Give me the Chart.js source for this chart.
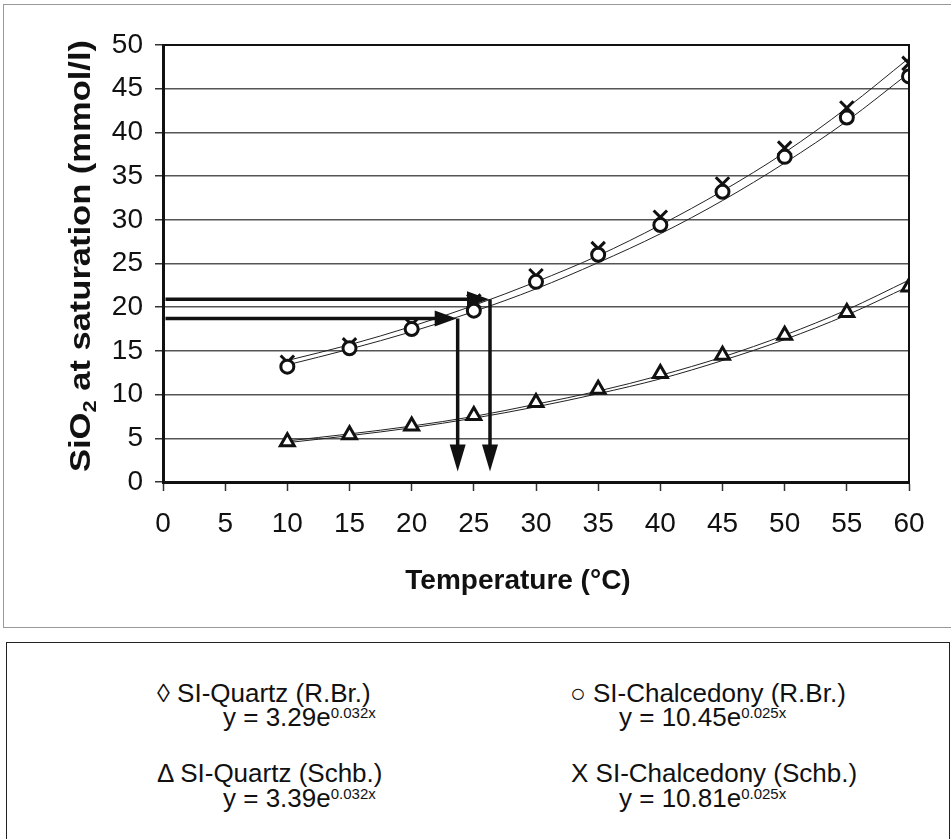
<!DOCTYPE html>
<html>
<head>
<meta charset="utf-8">
<script src="https://cdn.jsdelivr.net/npm/chart.js@4"></script>
<style>
    body { margin: 0; background: #fff; font-family: "Liberation Sans", Arial, sans-serif; color: #111; }
    #kader { position: absolute; left: 3px; top: 4px; width: 947px; height: 622px; border: 1px solid #999; border-right: none; }
    #grafiek { position: absolute; left: 4px; top: 5px; }
    #legenda { position: absolute; left: 6px; top: 642px; width: 942px; height: 210px; border: 1.5px solid #222; }
    .regel { position: absolute; font-size: 26px; white-space: nowrap; }
    .regel sup { font-size: 15px; position: relative; top: 2px; }
</style>
</head>
<body>
<div id="kader"></div>
<canvas id="grafiek" width="946" height="622"></canvas>
<div id="legenda"></div>

<script>
// temperatures (°C)
const temperaturen = [10, 15, 20, 25, 30, 35, 40, 45, 50, 55, 60];

const quartzSchb = [4.6, 5.4, 6.4, 7.6, 9.1, 10.6, 12.4, 14.5, 16.8, 19.4, 22.3];
const chalcRBr   = [13.2, 15.3, 17.5, 19.6, 22.9, 26.0, 29.4, 33.2, 37.2, 41.7, 46.4];
const chalcSchb  = [13.7, 15.7, 18.0, 20.7, 23.6, 26.7, 30.3, 34.1, 38.2, 42.8, 47.9];

// trendlines as drawn
const trendQuartzRBr  = [4.5, 5.3, 6.2, 7.3, 8.6, 10.1, 11.8, 13.9, 16.3, 19.1, 22.4];
const trendQuartzSchb = [4.7, 5.5, 6.4, 7.5, 8.9, 10.4, 12.2, 14.3, 16.8, 19.7, 23.1];
const trendChalcRBr   = [13.4, 15.2, 17.2, 19.5, 22.1, 25.1, 28.4, 32.2, 36.5, 41.3, 46.8];
const trendChalcSchb  = [13.9, 15.7, 17.8, 20.2, 22.9, 25.9, 29.4, 33.3, 37.7, 42.8, 48.5];

const pijlNiveaus = [20.9, 18.7];
const pijlTemperaturen = [26.3, 23.7];
const pijlStartX = 0.2;
const pijlEindY = 1.2;

// legend texts
const legendaLabels = ["\u25CA  SI-Quartz (R.Br.)", "\u25CB SI-Chalcedony (R.Br.)", "\u0394 SI-Quartz (Schb.)", "X SI-Chalcedony (Schb.)"];
const legendaFactoren = ["3.29", "10.45", "3.39", "10.81"];
const legendaExponenten = ["0.032x", "0.025x", "0.032x", "0.025x"];

const zwart = "#111";

function punten(waarden) {
    return temperaturen.map((t, i) => ({ x: t, y: waarden[i] }));
}

function trend(waarden) {
    return {
        data: punten(waarden),
        showLine: true,
        borderColor: "#222",
        borderWidth: 1,
        pointRadius: 0,
        cubicInterpolationMode: "monotone",
        order: 5,
    };
}

function markers(waarden, stijl, radius) {
    return {
        data: punten(waarden),
        showLine: false,
        pointStyle: stijl,
        pointRadius: radius,
        pointBorderWidth: 3,
        pointBorderColor: zwart,
        pointBackgroundColor: "#fff",
        order: 1,
    };
}

const pijlenPlugin = {
    id: "pijlen",
    afterDatasetsDraw(chart) {
        const ctx = chart.ctx;
        const xs = chart.scales.x, ys = chart.scales.y;
        ctx.save();
        ctx.strokeStyle = zwart;
        ctx.fillStyle = zwart;
        ctx.lineWidth = 3.5;
        pijlNiveaus.forEach((niveau, i) => {
            const x0 = xs.getPixelForValue(pijlStartX);
            const x1 = xs.getPixelForValue(pijlTemperaturen[i]);
            const y0 = ys.getPixelForValue(niveau);
            const y1 = ys.getPixelForValue(pijlEindY);
            // horizontal
            ctx.beginPath();
            ctx.moveTo(x0, y0);
            ctx.lineTo(x1 - 18, y0);
            ctx.stroke();
            ctx.beginPath();
            ctx.moveTo(x1 - 1, y0);
            ctx.lineTo(x1 - 23, y0 - 8);
            ctx.lineTo(x1 - 23, y0 + 8);
            ctx.closePath();
            ctx.fill();
            // vertical
            ctx.beginPath();
            ctx.moveTo(x1, y0);
            ctx.lineTo(x1, y1 - 22);
            ctx.stroke();
            ctx.beginPath();
            ctx.moveTo(x1, y1);
            ctx.lineTo(x1 - 8, y1 - 27);
            ctx.lineTo(x1 + 8, y1 - 27);
            ctx.closePath();
            ctx.fill();
        });
        ctx.restore();
    },
    afterDraw(chart) {
        const ctx = chart.ctx;
        const a = chart.chartArea;
        ctx.save();
        // top and right frame
        ctx.strokeStyle = zwart;
        ctx.lineWidth = 2;
        ctx.beginPath();
        ctx.moveTo(a.left, a.top);
        ctx.lineTo(a.right, a.top);
        ctx.lineTo(a.right, a.bottom);
        ctx.stroke();

        ctx.fillStyle = zwart;
        // x title
        ctx.font = "bold 28px 'Liberation Sans', Arial, sans-serif";
        ctx.textAlign = "center";
        ctx.textBaseline = "middle";
        ctx.fillText("Temperature (\u00B0C)", a.left + 355, 576);

        // y title with subscript
        const delen = [
            { t: "SiO", f: "bold 30px 'Liberation Sans', Arial, sans-serif", dy: 0 },
            { t: "2", f: "bold 19px 'Liberation Sans', Arial, sans-serif", dy: 6 },
            { t: " at saturation (mmol/l)", f: "bold 30px 'Liberation Sans', Arial, sans-serif", dy: 0 },
        ];
        let totaal = 0;
        delen.forEach(d => { ctx.font = d.f; d.w = ctx.measureText(d.t).width; totaal += d.w; });
        ctx.translate(76, 251);
        ctx.rotate(-Math.PI / 2);
        ctx.scale(1.15, 1);
        ctx.textAlign = "left";
        ctx.textBaseline = "alphabetic";
        let x = -totaal / 2;
        delen.forEach(d => {
            ctx.font = d.f;
            ctx.fillText(d.t, x, 10 + d.dy);
            x += d.w;
        });
        ctx.restore();
    }
};

function tekenGrafiek() {
    const canvas = document.getElementById("grafiek");

    new Chart(canvas, {
        type: "scatter",
        data: {
            datasets: [
                trend(trendQuartzRBr),
                trend(trendQuartzSchb),
                trend(trendChalcRBr),
                trend(trendChalcSchb),
                markers(quartzSchb, "triangle", 8),
                markers(chalcRBr, "circle", 6.5),
                markers(chalcSchb, "crossRot", 9.5),
            ],
        },
        options: {
            responsive: false,
            animation: false,
            devicePixelRatio: 1,
            layout: { padding: { top: 40, right: 41, left: 0, bottom: 0 } },
            plugins: {
                legend: { display: false },
                tooltip: { enabled: false },
            },
            scales: {
                x: {
                    type: "linear",
                    min: 0,
                    max: 60,
                    afterFit: s => { s.height = 145; },
                    ticks: {
                        stepSize: 5,
                        color: zwart,
                        padding: 16,
                        font: { family: "'Liberation Sans', Arial, sans-serif", size: 28 },
                    },
                    grid: { drawOnChartArea: false, drawTicks: true, tickLength: 9, tickColor: "#333", tickWidth: 1.5 },
                    border: { color: zwart, width: 3 },
                },
                y: {
                    min: 0,
                    max: 50,
                    afterFit: s => { s.width = 159; },
                    ticks: {
                        stepSize: 5,
                        color: zwart,
                        padding: 12,
                        font: { family: "'Liberation Sans', Arial, sans-serif", size: 28 },
                    },
                    grid: { color: "#555", lineWidth: 1.5, tickLength: 8, tickColor: "#333", tickWidth: 1.5 },
                    border: { color: zwart, width: 3 },
                },
            },
        },
        plugins: [pijlenPlugin],
    });
}

function tekenLegenda() {
    const legenda = document.getElementById("legenda");
    const labelLinks = [150, 563, 150, 564];
    const formuleLinks = [216, 612, 216, 612];
    const labelBoven = [35, 35, 115, 115];
    const formuleBoven = [59, 59, 140, 140];
    legendaLabels.forEach((tekst, i) => {
        const label = document.createElement("div");
        label.className = "regel";
        label.style.left = labelLinks[i] + "px";
        label.style.top = labelBoven[i] + "px";
        label.textContent = tekst;
        legenda.appendChild(label);

        const formule = document.createElement("div");
        formule.className = "regel";
        formule.style.left = formuleLinks[i] + "px";
        formule.style.top = formuleBoven[i] + "px";
        formule.innerHTML = "y = " + legendaFactoren[i] + "e<sup>" + legendaExponenten[i] + "</sup>";
        legenda.appendChild(formule);
    });
}

window.addEventListener("load", () => {
    tekenGrafiek();
    tekenLegenda();
});
</script>
</body>
</html>
